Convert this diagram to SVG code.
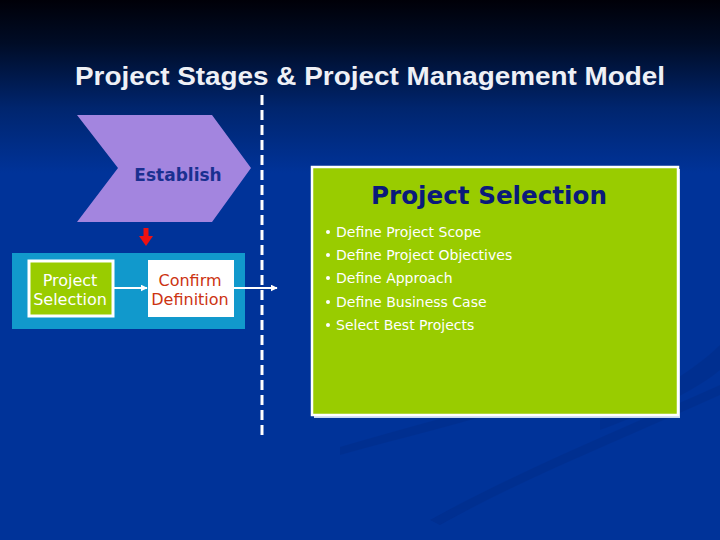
<svg xmlns="http://www.w3.org/2000/svg" width="720" height="540" viewBox="0 0 720 540">
<defs>
<linearGradient id="bg" x1="0" y1="0" x2="0" y2="1">
<stop offset="0" stop-color="#000008"/>
<stop offset="0.08" stop-color="#000c26"/>
<stop offset="0.2" stop-color="#00256e"/>
<stop offset="0.32" stop-color="#003399"/>
<stop offset="1" stop-color="#003399"/>
</linearGradient>
<marker id="ah" viewBox="0 0 10 10" refX="9" refY="5" markerWidth="7" markerHeight="7" markerUnits="userSpaceOnUse" orient="auto">
<path d="M0,0 L10,5 L0,10 z" fill="#ffffff"/>
</marker>
<style>
.title{font-family:"Liberation Sans",Arial,sans-serif;font-weight:bold;font-size:26px;fill:#eef0f6}
.node{font-family:"DejaVu Sans",Verdana,sans-serif;font-size:16px}
.bul{font-family:"DejaVu Sans",Tahoma,sans-serif;font-size:14px;fill:#ffffff}
.conn{stroke:#ffffff;stroke-width:2;fill:none}
</style>
</defs>
<rect x="0" y="0" width="720" height="540" fill="url(#bg)"/>
<g opacity="0.09" fill="#001040">
<path d="M430,520 C520,470 620,430 720,385 L720,395 C620,440 520,480 440,525 z"/>
<path d="M600,430 C640,415 690,395 720,370 L720,345 C690,375 640,400 600,420 z"/>
<path d="M340,455 C430,430 520,410 575,385 L568,380 C510,402 430,420 340,447 z"/>
</g>
<text class="title" x="75" y="85" textLength="590" lengthAdjust="spacingAndGlyphs">Project Stages &amp; Project Management Model</text>

<g id="divider">
<line x1="262" y1="95" x2="262" y2="437" stroke="#ffffff" stroke-width="3" stroke-dasharray="10,5"/>
</g>

<g id="establish">
<polygon points="77,115 212,115 251,168 212,222 77,222 118,168" fill="#a385df"/>
<text x="178" y="181" text-anchor="middle" font-family="'DejaVu Sans',Verdana,sans-serif" font-weight="bold" font-size="17" fill="#1a3090">Establish</text>
</g>

<g id="red-arrow">
<rect x="143.5" y="228" width="5" height="10" fill="#ee1111"/>
<polygon points="139,236 153,236 146,246" fill="#ee1111"/>
</g>

<g id="stage-box">
<rect x="12" y="253" width="233" height="76" fill="#1199cc"/>
</g>

<g id="project-selection-node">
<rect x="29" y="261" width="84" height="55" fill="#99cc00" stroke="#ffffff" stroke-width="3"/>
<text class="node" x="70" y="286" text-anchor="middle" fill="#ffffff">Project</text>
<text class="node" x="70" y="305" text-anchor="middle" fill="#ffffff">Selection</text>
</g>

<g id="confirm-definition-node">
<rect x="148" y="260" width="86" height="57" fill="#ffffff"/>
<text class="node" x="190" y="286" text-anchor="middle" fill="#cc3311">Confirm</text>
<text class="node" x="190" y="305" text-anchor="middle" fill="#cc3311">Definition</text>
</g>

<g id="connectors">
<line class="conn" x1="114" y1="288" x2="147" y2="288" marker-end="url(#ah)"/>
<line class="conn" x1="234" y1="288" x2="277" y2="288" marker-end="url(#ah)"/>
</g>

<g id="detail-panel">
<rect x="314" y="169" width="366" height="249" fill="#c8d8f0"/>
<rect x="312" y="167" width="366" height="248" fill="#99cc00" stroke="#ffffff" stroke-width="2.5"/>
<text x="489" y="204" text-anchor="middle" font-family="'DejaVu Sans',Verdana,sans-serif" font-weight="bold" font-size="24" fill="#0a1a7a" textLength="236" lengthAdjust="spacingAndGlyphs">Project Selection</text>
<g class="bul">
<circle cx="328" cy="232" r="2" fill="#ffffff"/>
<text x="336" y="237">Define Project Scope</text>
<circle cx="328" cy="255" r="2" fill="#ffffff"/>
<text x="336" y="260">Define Project Objectives</text>
<circle cx="328" cy="278" r="2" fill="#ffffff"/>
<text x="336" y="283">Define Approach</text>
<circle cx="328" cy="302" r="2" fill="#ffffff"/>
<text x="336" y="307">Define Business Case</text>
<circle cx="328" cy="325" r="2" fill="#ffffff"/>
<text x="336" y="330">Select Best Projects</text>
</g>
</g>
</svg>
